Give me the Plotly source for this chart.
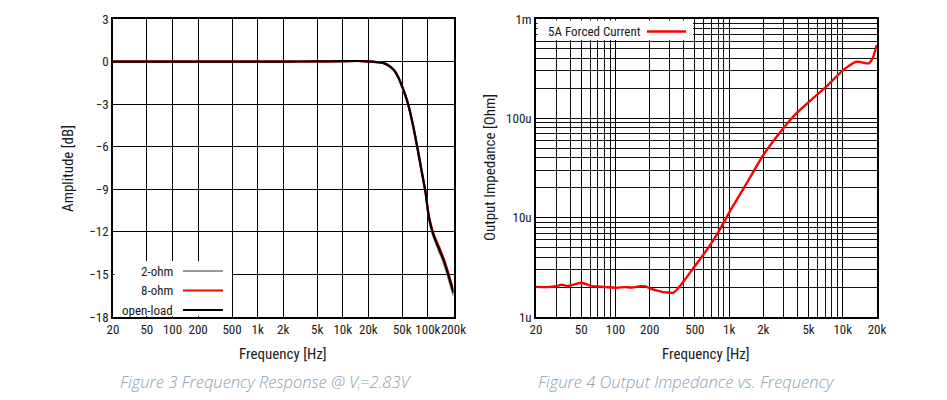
import plotly.graph_objects as go

# ---------------- Data: Figure 3 (frequency response) ----------------
fr_freq = [20, 50, 100, 200, 500, 1000, 2000, 5000, 10000, 15000, 19300, 25000, 30300,
           35000, 39700, 45000, 49800, 55000, 59600, 67000, 74800, 85000, 93800,
           100800, 108000, 117500, 135000, 153900, 175000, 200000]
fr_open = [0.0, 0.0, 0.0, 0.0, 0.0, 0.0, 0.0, 0.01, 0.03, 0.04, 0.02, -0.04, -0.11,
           -0.3, -0.58, -1.1, -1.75, -2.45, -3.16, -4.5, -5.97, -7.8, -9.2,
           -10.65, -11.55, -12.3, -13.2, -14.05, -15.1, -16.3]
fr_8ohm = [0.0, 0.0, 0.0, 0.0, 0.0, 0.0, 0.0, 0.01, 0.03, 0.04, 0.02, -0.04, -0.11,
           -0.3, -0.58, -1.1, -1.75, -2.45, -3.16, -4.5, -5.97, -7.8, -9.2,
           -10.6, -11.45, -12.2, -13.05, -13.9, -14.95, -16.15]
fr_2ohm = [0.0, 0.0, 0.0, 0.0, 0.0, 0.0, 0.0, 0.01, 0.03, 0.04, 0.02, -0.04, -0.12,
           -0.31, -0.6, -1.12, -1.78, -2.5, -3.2, -4.55, -6.02, -7.85, -9.25,
           -10.7, -11.65, -12.4, -13.35, -14.2, -15.3, -16.5]
fr_names = ["2-ohm", "8-ohm", "open-load"]
fr_colors = ["#999999", "#ff0000", "#000000"]
fr_xticks = [20, 50, 100, 200, 500, 1000, 2000, 5000, 10000, 20000, 50000, 100000, 200000]
fr_xlabels = ["20", "50", "100", "200", "500", "1k", "2k", "5k", "10k", "20k", "50k", "100k", "200k"]
fr_yticks = [3, 0, -3, -6, -9, -12, -15, -18]

# ---------------- Data: Figure 4 (output impedance) ----------------
zo_freq = [20, 25, 30, 33.6, 38, 43, 48.8, 55, 61.9, 70, 80, 90, 102, 120, 140, 165,
           185, 202, 230, 263, 295, 322, 345, 400, 484, 580, 681, 850, 1028, 1125,
           1500, 2000, 2990, 3900, 5460, 7160, 10100, 13300, 16900, 18300, 19900]
zo_imp = [2.01e-6, 2.0e-6, 2.04e-6, 2.11e-6, 2.05e-6, 2.12e-6, 2.2e-6, 2.15e-6, 2.04e-6,
          2.03e-6, 2.0e-6, 1.99e-6, 1.97e-6, 2.0e-6, 1.98e-6, 2.04e-6, 2.03e-6, 1.93e-6,
          1.85e-6, 1.78e-6, 1.76e-6, 1.75e-6, 1.87e-6, 2.3e-6, 3.1e-6, 4.1e-6, 5.3e-6,
          8.0e-6, 11.9e-6, 14.1e-6, 24.5e-6, 42.7e-6, 79e-6, 112e-6, 159e-6, 209e-6,
          306e-6, 372e-6, 358e-6, 402e-6, 547e-6]
zo_name = "5A Forced Current"
zo_xticks = [20, 50, 100, 200, 500, 1000, 2000, 5000, 10000, 20000]
zo_xlabels = ["20", "50", "100", "200", "500", "1k", "2k", "5k", "10k", "20k"]
zo_yticks = [1e-6, 1e-5, 1e-4, 1e-3]
zo_ylabels = ["1u", "10u", "100u", "1m"]

captions = ["Figure 3 Frequency Response @ Vᵢ=2.83V",
            "Figure 4 Output Impedance vs. Frequency"]

# ---------------- Figure ----------------
W, H = 947, 400
OFF = 8  # page body margin offset
FONT = "Liberation Sans Narrow, Roboto Condensed, DejaVu Sans Condensed, Roboto, sans-serif"
TXT = "#1a1a1a"

def px(x):
    return (x - OFF) / W

def py(y):
    return 1 - (y - OFF) / H

fig = go.Figure()

for name, vals, col in zip(fr_names, [fr_2ohm, fr_8ohm, fr_open], fr_colors):
    fig.add_trace(go.Scatter(x=fr_freq, y=vals, mode="lines", name=name,
                             line=dict(color=col, width=2.2, shape="spline", smoothing=0.6),
                             xaxis="x", yaxis="y", showlegend=False))

fig.add_trace(go.Scatter(x=zo_freq, y=zo_imp, mode="lines", name=zo_name,
                         line=dict(color="#ff0000", width=2.4, shape="spline", smoothing=0.6),
                         xaxis="x2", yaxis="y2", showlegend=False))

ydom = [py(317), py(19)]
axis_common = dict(showline=True, linecolor="#000", linewidth=1.5, mirror=True,
                   ticks="", gridcolor="#000", gridwidth=1, zeroline=False, tickangle=0,
                   tickfont=dict(family=FONT, size=13, color=TXT), automargin=False)

fig.update_layout(
    width=W, height=H, margin=dict(l=0, r=0, t=0, b=0),
    paper_bgcolor="white", plot_bgcolor="white", showlegend=False,
    xaxis=dict(domain=[px(113), px(453.5)], type="log",
               range=[1.30103, 5.30103], tickvals=fr_xticks, ticktext=fr_xlabels,
               anchor="y", **axis_common),
    yaxis=dict(domain=ydom, range=[-18, 3], tickvals=fr_yticks, anchor="x", **axis_common),
    xaxis2=dict(domain=[px(536), px(877)], type="log", range=[1.30103, 4.30103],
                tickvals=zo_xticks, ticktext=zo_xlabels, anchor="y2",
                minor=dict(showgrid=True, gridcolor="#111", gridwidth=1, dtick="D1", ticks=""),
                **axis_common),
    yaxis2=dict(domain=ydom, type="log", range=[-6, -3], tickvals=zo_yticks,
                ticktext=zo_ylabels, anchor="x2",
                minor=dict(showgrid=True, gridcolor="#111", gridwidth=1, dtick="D1", ticks=""),
                **axis_common),
)

shapes = []
annots = []

# Left legend (manual, text right-aligned with sample line on the right)
shapes.append(dict(type="rect", xref="paper", yref="paper", x0=px(114.5), x1=px(232),
                   y0=py(316), y1=py(261), fillcolor="white", line=dict(width=0), layer="above"))
for i, (nm, col) in enumerate(zip(fr_names, fr_colors)):
    yy = 271 + i * 19.5
    annots.append(dict(xref="paper", yref="paper", x=px(175), y=py(yy), text=nm,
                       xanchor="right", yanchor="middle", showarrow=False,
                       font=dict(family=FONT, size=13, color=TXT)))
    shapes.append(dict(type="line", xref="paper", yref="paper", x0=px(183), x1=px(223),
                       y0=py(yy), y1=py(yy), line=dict(color=col, width=2.2), layer="above"))

# Right legend
shapes.append(dict(type="rect", xref="paper", yref="paper", x0=px(537.5), x1=px(693),
                   y0=py(40), y1=py(20.5), fillcolor="white", line=dict(width=0), layer="above"))
annots.append(dict(xref="paper", yref="paper", x=px(546), y=py(31.5), text=zo_name,
                   xanchor="left", yanchor="middle", showarrow=False,
                   font=dict(family=FONT, size=13, color=TXT)))
shapes.append(dict(type="line", xref="paper", yref="paper", x0=px(647), x1=px(686),
                   y0=py(31.5), y1=py(31.5), line=dict(color="#ff0000", width=2.4), layer="above"))

# Axis titles
annots += [
    dict(xref="paper", yref="paper", x=px(283), y=py(354), text="Frequency [Hz]",
         showarrow=False, xanchor="center", yanchor="middle",
         font=dict(family=FONT, size=15, color=TXT)),
    dict(xref="paper", yref="paper", x=px(68), y=py(168), text="Amplitude [dB]",
         showarrow=False, textangle=-90, xanchor="center", yanchor="middle",
         font=dict(family=FONT, size=15, color=TXT)),
    dict(xref="paper", yref="paper", x=px(706), y=py(354), text="Frequency [Hz]",
         showarrow=False, xanchor="center", yanchor="middle",
         font=dict(family=FONT, size=15, color=TXT)),
    dict(xref="paper", yref="paper", x=px(490), y=py(168), text="Output Impedance [Ohm]",
         showarrow=False, textangle=-90, xanchor="center", yanchor="middle",
         font=dict(family=FONT, size=15, color=TXT)),
]

# Captions
for cx, cap in zip([265, 686], captions):
    annots.append(dict(xref="paper", yref="paper", x=px(cx), y=py(381), text=cap,
                       showarrow=False, xanchor="center", yanchor="middle",
                       font=dict(family="Open Sans, Lato, DejaVu Sans, sans-serif", size=16.5,
                                 color="#8d9db3", style="italic", weight=300)))

fig.update_layout(shapes=shapes, annotations=annots)
fig.write_html("out.html")
